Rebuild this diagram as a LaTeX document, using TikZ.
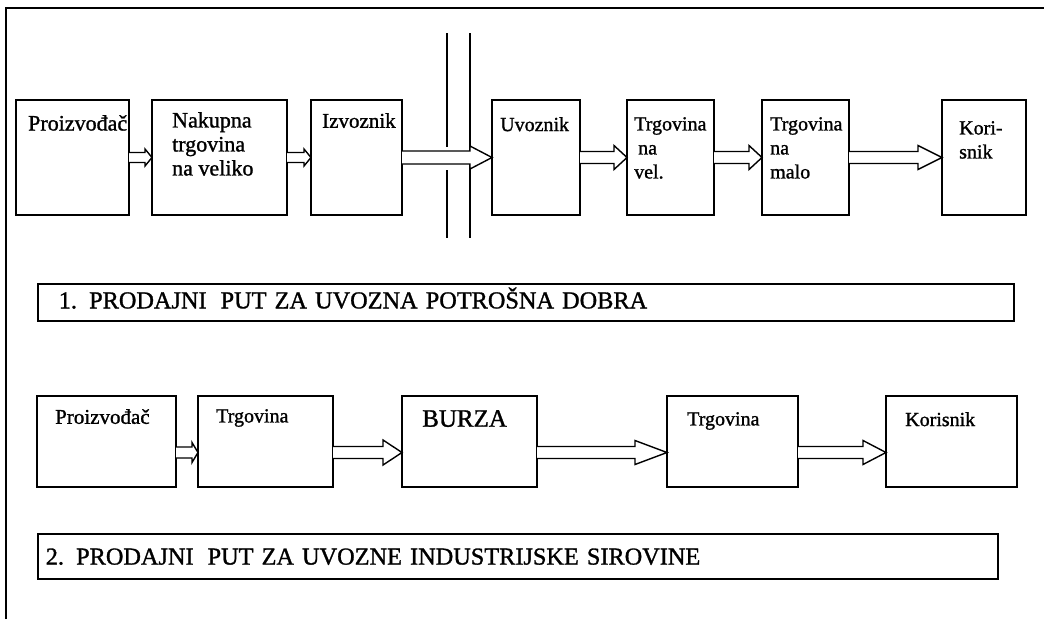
\documentclass[tikz,border=0pt]{standalone}
\usepackage{fontspec}
\setmainfont{Liberation Serif}[RawFeature={embolden=1.2}]
\usetikzlibrary{calc}
\newcommand\hollowarrow[6]{%
  \draw[harrow] let \p1=(#1.east |- #3), \p2=(#2.west |- #3) in
    (\x1,\y1+#4pt) -- (\x2-#6pt,\y1+#4pt) -- (\x2-#6pt,\y1+#5pt) -- (\x2,\y1)
    -- (\x2-#6pt,\y1-#5pt) -- (\x2-#6pt,\y1-#4pt) -- (\x1,\y1-#4pt);}
\begin{document}
\begin{tikzpicture}[x=1pt, y=-1pt, line join=miter,
  box/.style={draw, line width=1.6pt, inner sep=0pt, outer sep=0pt, anchor=north west},
  lbl/.style={inner sep=0pt, anchor=north west, align=left},
  harrow/.style={draw, line width=1.4pt, fill=white},
  titlebox/.style={draw, line width=1.6pt, anchor=north west, inner ysep=0pt, align=left,
    font=\fontsize{24.3}{30}\selectfont}]
\useasboundingbox (0,0) rectangle (1044,619);
\draw[line width=1.8pt] (6,619) -- (6,8) -- (1044,8);
\path (0,157.5) coordinate (row1) (0,452.5) coordinate (row2);
\foreach \n/\xa/\xb/\dx/\dy/\fs/\txt in {p1/16/129/12/15/22/{Proizvođač},
    p2/152/287/20/12/22/{Nakupna\\trgovina\\na veliko}, p3/311/402/11/13/21/{Izvoznik},
    p4/492/580/8/17/20/{Uvoznik}, p5/627/714/7/17/20/{Trgovina\\\hspace*{4pt}na\\vel.},
    p6/762/849/8/17/20/{Trgovina\\na\\malo}, p7/942/1026/17/21/20/{Kori-\\snik}}
  {\node[box, minimum width={(\xb-\xa)*1pt}, minimum height=115pt] (\n) at (\xa,100) {};
   \node[lbl, font=\fontsize{\fs}{24}\selectfont] (\n-t) at ([shift={(\dx,\dy)}]\n.north west) {\txt};}
\foreach \n/\xa/\xb/\dx/\dy/\fs/\txt in {q1/37/176/18/13/21/{Proizvođač},
    q2/198/333/18/13/20/{Trgovina}, q3/402/537/20/14/25/{BURZA},
    q4/667/798/20/16/20/{Trgovina}, q5/886/1017/19/16/20/{Korisnik}}
  {\node[box, minimum width={(\xb-\xa)*1pt}, minimum height=91pt] (\n) at (\xa,396) {};
   \node[lbl, font=\fontsize{\fs}{\fs}\selectfont] (\n-t) at ([shift={(\dx,\dy)}]\n.north west) {\txt};}
\draw[line width=1.8pt] (447,33) -- (447,147) (447,170) -- (447,238)
  (470,33) -- (470,151) (470,164) -- (470,238);
\foreach \a/\b/\r/\s/\h/\l in {p1/p2/row1/5/8.5/7, p2/p3/row1/5/8.5/7, p3/p4/row1/6.5/11.5/22,
    p4/p5/row1/6/12/13, p5/p6/row1/6/12/13, p6/p7/row1/6/12/24,
    q1/q2/row2/5.5/10/6, q2/q3/row2/6/12.5/19, q3/q4/row2/6/12/32, q4/q5/row2/6/12/23}
  \hollowarrow{\a}{\b}{\r}{\s}{\h}{\l};
\node[titlebox, minimum width=976pt, minimum height=37pt, inner xsep=21pt, text width=934pt,
  text height=16.6pt, text depth=4.5pt] (title1) at (37,283)
  {1. PRODAJNI\hspace{14pt}PUT ZA UVOZNA POTROŠNA DOBRA};
\node[titlebox, minimum width=960pt, minimum height=45pt, inner xsep=8pt, text width=944pt,
  text height=16.5pt, text depth=0pt] (title2) at (37,533)
  {2. PRODAJNI\hspace{14pt}PUT ZA UVOZNE INDUSTRIJSKE SIROVINE};
\end{tikzpicture}
\end{document}
